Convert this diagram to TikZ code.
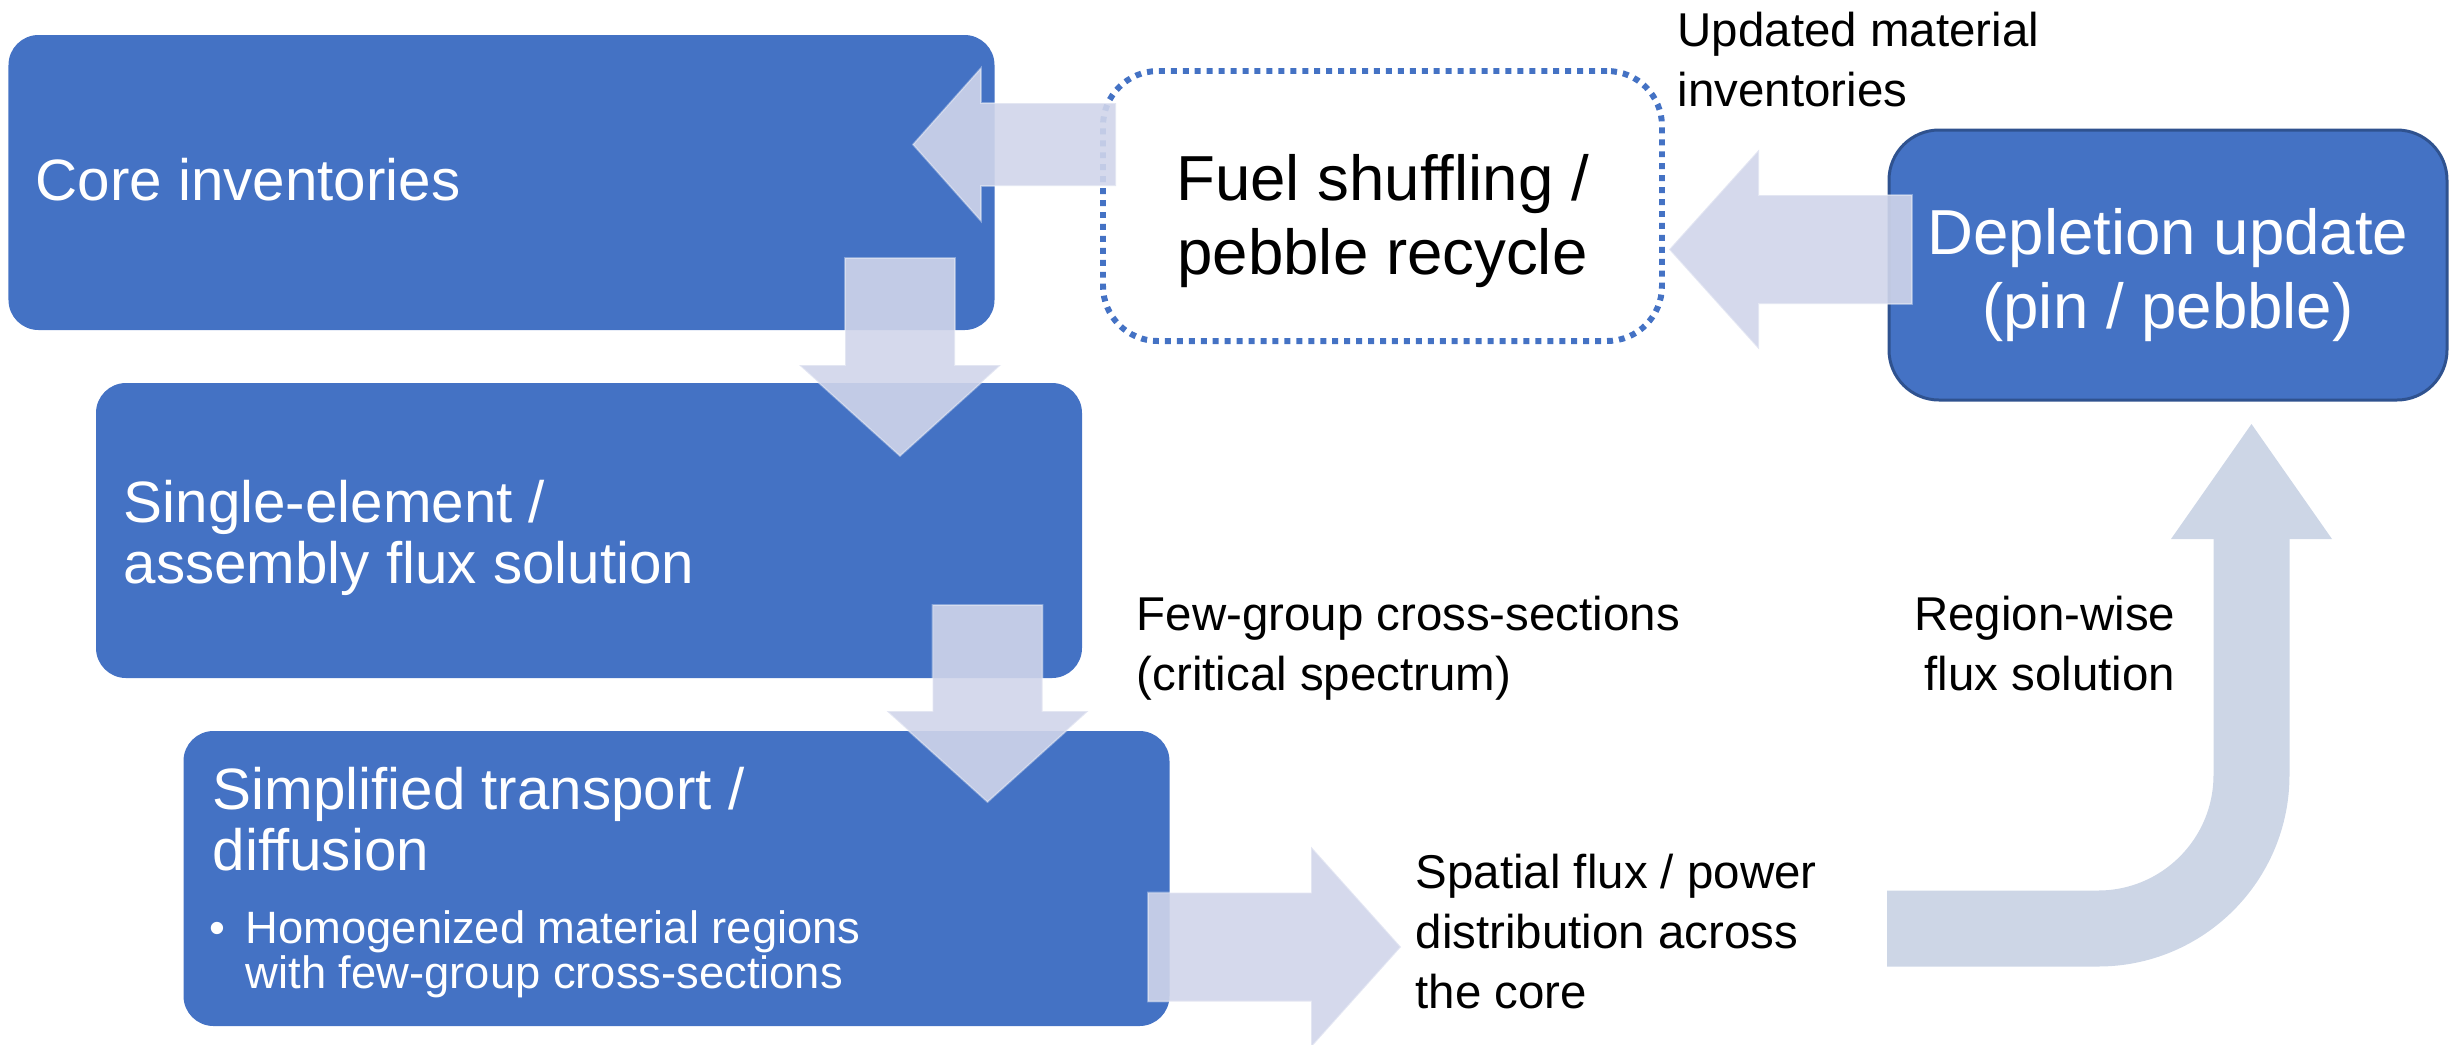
\documentclass[tikz,border=0pt]{standalone}
\usepackage{fontspec}
\setmainfont{Liberation Sans}
\usetikzlibrary{calc}
\definecolor{stage}{HTML}{4472C4}
\definecolor{stageedge}{HTML}{2F528F}
\definecolor{flow}{HTML}{D0D5EA}
\definecolor{loopfill}{HTML}{CDD6E6}

\begin{document}
\begin{tikzpicture}[x=1cm,y=1cm,
  stagebox/.style={fill=stage,rounded corners=0.3cm,minimum width=9.86cm,minimum height=2.95cm,inner sep=0pt},
  stagetext/.style={text=white,align=left,inner sep=0pt,font=\fontsize{16.6}{17.1}\selectfont},
  notetext/.style={text=white,align=left,inner sep=0pt,font=\fontsize{12.9}{12.8}\selectfont},
  shufbox/.style={draw=stage,line width=1.7pt,dash pattern=on 1.7pt off 1.7pt,rounded corners=0.55cm,minimum width=5.59cm,minimum height=2.70cm,inner sep=0pt},
  deplbox/.style={fill=stage,draw=stageedge,line width=0.85pt,rounded corners=0.5cm,minimum width=5.58cm,minimum height=2.70cm,inner sep=0pt},
  bigtext/.style={align=center,inner sep=0pt,font=\fontsize{18.1}{21}\selectfont},
  lbl/.style={align=left,inner sep=0pt,font=\fontsize{13.5}{17}\selectfont},
  flowarrow/.style={fill=flow,fill opacity=0.9,draw=white,draw opacity=0.35,line width=0.5pt}]
\useasboundingbox (0,0) rectangle (24.61,-10.44);
% stages of the calculation chain
\node[stagebox] (core) at (5.015,-1.825) {};
\node[stagebox] (single) at (5.89,-5.305) {};
\node[stagebox] (simpl) at (6.765,-8.785) {};
\node[shufbox] (fuel) at (13.825,-2.06) {};
\node[deplbox] (depl) at (21.68,-2.65) {};
% block arrows
\coordinate (a-fuel) at (11.16,-1.445);
\coordinate (a-core) at (9.00,-2.58);
\coordinate (a-single) at (9.875,-6.05);
\coordinate (a-simpl) at (11.48,-9.47);
\coordinate (a-depl) at (19.12,-2.495);
\foreach \s/\a/\l/\w/\h/\k in {a-fuel/180/2.03/0.83/1.53/0.68,a-core/270/1.98/1.10/2.02/0.91,a-single/270/1.97/1.10/2.02/0.91,a-simpl/0/2.53/1.09/2.01/0.90,a-depl/180/2.43/1.09/2.00/0.90}
  \fill[flowarrow,shift={(\s)},rotate=\a] (0,-\w/2) -- (\l-\k,-\w/2) -- (\l-\k,-\h/2) -- (\l,0) -- (\l-\k,\h/2) -- (\l-\k,\w/2) -- (0,\w/2) -- cycle;
% bent arrow back up to the depletion step
\coordinate (a-spat) at (18.87,-9.285);
\coordinate (a-reg) at (22.515,-5.37);
\draw[draw=loopfill,line width=0.76cm,rounded corners=1.535cm] (a-spat) -| (a-reg);
\fill[loopfill] ($(a-reg)+(-0.805,-0.02)$) -- ($(a-reg)+(0,1.13)$) -- ($(a-reg)+(0.805,-0.02)$) -- cycle;
% texts (base = last line)
\node[stagetext,anchor=base west] (core-t) at (0.35,-2.00) {Core inventories};
\node[stagetext,anchor=base west] (single-t) at (1.23,-5.83) {Single-element /\\assembly flux solution};
\node[stagetext,anchor=base west] (simpl-t) at (2.12,-8.70) {Simplified transport /\\diffusion};
\node[notetext,anchor=base] (simpl-b) at (2.17,-9.43) {•};
\node[notetext,anchor=base west] (simpl-n) at (2.45,-9.88) {Homogenized material regions\\with few-group cross-sections};
\node[bigtext,anchor=base] (fuel-t) at (fuel.center |- 0,-2.74) {Fuel shuffling /\\pebble recycle};
\node[bigtext,anchor=base,text=white] (depl-t) at (depl.center |- 0,-3.28) {Depletion update\\(pin / pebble)};
\node[lbl,anchor=base west] (upd) at (16.77,-1.06) {Updated material\\inventories};
\node[lbl,anchor=base west] (xs) at (11.36,-6.90) {Few-group cross-sections\\(critical spectrum)};
\node[lbl,anchor=base east,align=right] (reg) at (21.76,-6.90) {Region-wise\\flux solution};
\node[lbl,anchor=base west] (spat) at (14.15,-10.08) {Spatial flux / power\\distribution across\\the core};
\end{tikzpicture}
\end{document}
